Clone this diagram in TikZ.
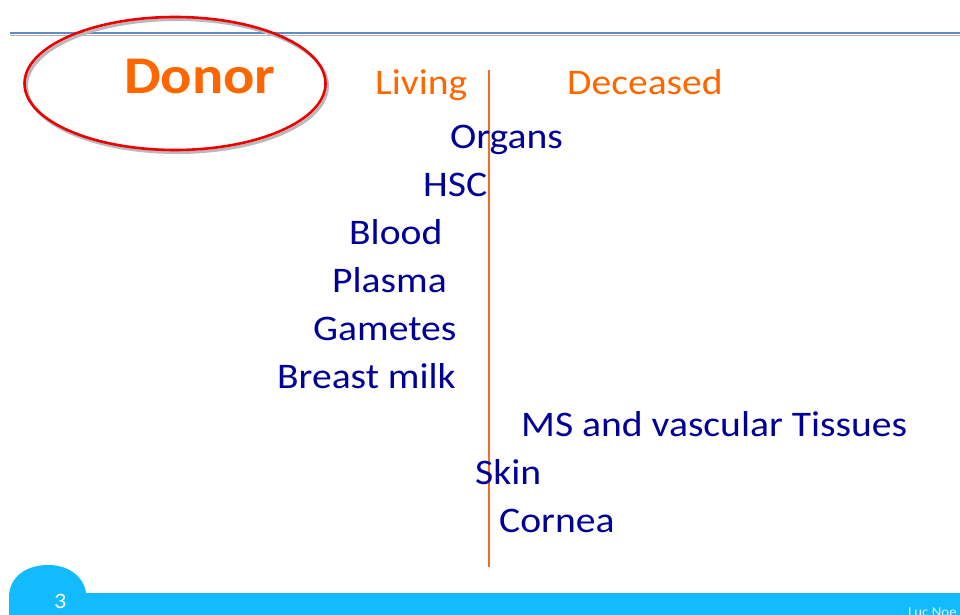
\documentclass[tikz,border=0pt]{standalone}
\usepackage{fontspec}
\setmainfont{Carlito}[FakeStretch=1.1]
\usetikzlibrary{calc}
\definecolor{donororange}{HTML}{FF6600}
\definecolor{itemblue}{HTML}{000096}
\definecolor{splitorange}{HTML}{F26D21}
\definecolor{bandcyan}{HTML}{12BBFF}
\definecolor{ruleblue}{HTML}{5F8BC6}
\definecolor{ringred}{HTML}{EE0000}
\begin{document}
\begin{tikzpicture}[x=1pt,y=-1pt,
    every node/.style={inner sep=0pt,anchor=base west},
    item/.style={text=itemblue,font=\fontsize{36}{36}\selectfont},
    head/.style={text=donororange,font=\fontsize{36}{36}\selectfont}]
    \useasboundingbox (0,0) rectangle (960,615);
    % Filet superior
    \draw[gray!60,line width=1.2] (10,35.5) -- (960,35.5);
    \draw[ruleblue,line width=2.5] (10,33) -- (960,33);
    % Banda inferior amb la pestanya
    \fill[bandcyan] (9,615) -- (9,596) .. controls (10,576) and (27,565) .. (48,565)
        .. controls (69,565) and (84,577) .. (86,593) -- (960,593) -- (960,615) -- cycle;
    \node[text=white,font=\fontsize{22}{22}\selectfont] (page) at (54,608) {3};
    \node[text=white!85!bandcyan,font=\fontsize{13.5}{14}\selectfont] (author) at (908,616.5) {Luc Noe};
    % Divisoria viu / mort
    \coordinate (splittop) at (489,70);
    \coordinate (splitbot) at (489,567);
    \draw[splitorange,line width=2] (splittop) -- (splitbot);
    % Cercle del donant
    \draw[gray!55,line width=3] (177,86) ellipse [x radius=150.5, y radius=66.5];
    \draw[ringred,line width=2.6] (175,83.5) ellipse [x radius=150.5, y radius=66.5];
    \node[text=donororange,font=\fontsize{53}{53}\selectfont\bfseries] (donor) at (124,94) {Donor};
    % Capcaleres
    \node[head] (living) at (375,95) {Living};
    \node[head] (deceased) at (567,95) {Deceased};
    % Elements
    \node[item] (organs) at (450,148) {Organs};
    \node[item] (hsc) at (423,196) {HSC};
    \node[item] (blood) at (349,244) {Blood};
    \node[item] (plasma) at (332,292) {Plasma};
    \node[item] (gametes) at (313,340) {Gametes};
    \node[item] (milk) at (277,388) {Breast milk};
    \node[item] (ms) at (521,436) {MS and vascular Tissues};
    \node[item] (skin) at (475,484) {Skin};
    \node[item] (cornea) at (499,532) {Cornea};
\end{tikzpicture}
\end{document}
